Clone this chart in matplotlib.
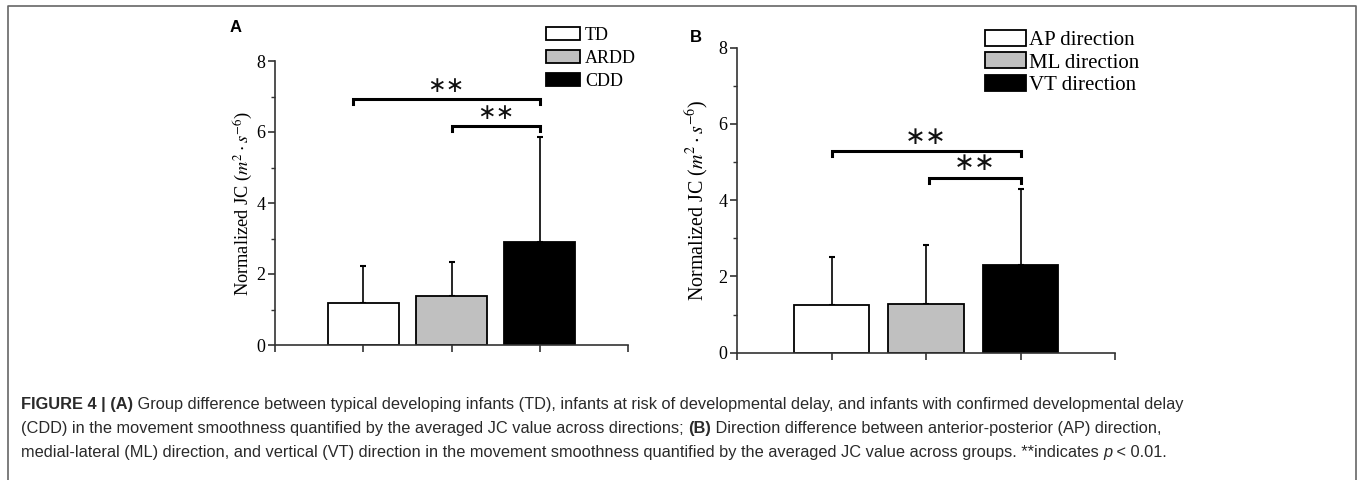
import numpy as np
import matplotlib
matplotlib.use("Agg")
import matplotlib.pyplot as plt
from matplotlib.patches import Patch
from matplotlib.lines import Line2D

plt.rcParams['font.family'] = ['Liberation Serif', 'DejaVu Serif']
plt.rcParams['mathtext.fontset'] = 'stix'

# panel A: groups
groups = ["TD", "ARDD", "CDD"]
group_mean = [1.18, 1.37, 2.91]
group_sd = [1.05, 0.98, 2.94]
group_sig = [(0.88, 3, 6.93), (2, 3, 6.17)]   # (from, to, height)

# panel B: directions
directions = ["AP direction", "ML direction", "VT direction"]
dir_mean = [1.25, 1.28, 2.30]
dir_sd = [1.27, 1.55, 1.99]
dir_sig = [(1, 3, 5.28), (2.03, 3, 4.59)]

colors = ["white", "#c0c0c0", "black"]

W, H = 1358, 480
fig = plt.figure(figsize=(W / 100, H / 100), dpi=100)


def px(x, y):
    return x / W, 1 - y / H


def draw_panel(rect, means, sds, sig, star_size, label_size, label_pad):
    ax = fig.add_axes(rect)
    x = np.arange(1, len(means) + 1)
    ax.bar(x, means, width=0.8, color=colors, edgecolor="black", linewidth=1.3, zorder=2)
    ax.errorbar(x, means, yerr=[np.zeros(len(sds)), sds], fmt="none", ecolor="black",
                elinewidth=1.2, capsize=2.5, capthick=1.5, zorder=1)
    for x0, x1, h in sig:
        ax.plot([x0, x0, x1, x1], [h - 0.13, h, h, h - 0.13], color="black", lw=2.2,
                solid_joinstyle="miter", clip_on=False)
        ax.text((x0 + x1) / 2, h + 0.07, "∗∗", ha="center", va="bottom",
                fontsize=star_size, family="DejaVu Sans", color="#111111")
    ax.set_xlim(0, 4)
    ax.set_ylim(0, 8)
    ax.set_xticks([0, 1, 2, 3, 4])
    ax.set_xticklabels([])
    ax.set_yticks([0, 2, 4, 6, 8])
    ax.set_yticks([1, 3, 5, 7], minor=True)
    for s in ["top", "right"]:
        ax.spines[s].set_visible(False)
    for s in ["left", "bottom"]:
        ax.spines[s].set_linewidth(1.2)
        ax.spines[s].set_color("#333333")
    ax.tick_params(which="major", direction="out", length=5, width=1.2, color="#333333",
                   labelsize=13, pad=2)
    ax.tick_params(which="minor", direction="out", length=3, width=1.0, color="#333333")
    ax.set_ylabel(r"Normalized JC ($m^2\cdot s^{-6}$)", fontsize=label_size, labelpad=label_pad)
    return ax


axA = draw_panel([275 / W, 1 - 345 / H, (628 - 275) / W, (345 - 61) / H],
                 group_mean, group_sd, group_sig, 16, 13.2, 1)
axB = draw_panel([737 / W, 1 - 352.7 / H, (1115 - 737) / W, (352.7 - 47.7) / H],
                 dir_mean, dir_sd, dir_sig, 18, 14.4, 5)

# legends
hA = [Patch(facecolor=c, edgecolor="black", linewidth=1.3) for c in colors]
fig.legend(hA, groups, loc="upper left", bbox_to_anchor=px(546, 27), frameon=False,
           fontsize=13, handlelength=1.9, handleheight=0.75, handletextpad=0.25,
           labelspacing=0.32, borderpad=0, borderaxespad=0)
fig.legend(hA, directions, loc="upper left", bbox_to_anchor=px(985, 30), frameon=False,
           fontsize=15, handlelength=1.95, handleheight=0.8, handletextpad=0.15,
           labelspacing=0.1, borderpad=0, borderaxespad=0)

# panel letters
fig.text(*px(230, 28), "A", family="Liberation Sans", fontweight="bold", fontsize=12, va="center")
fig.text(*px(690, 37), "B", family="Liberation Sans", fontweight="bold", fontsize=12, va="center")

# frame
fig.add_artist(Line2D([7.5 / W, 7.5 / W, 1355.5 / W, 1355.5 / W], [0, 1 - 6 / H, 1 - 6 / H, 0],
                      color="#666666", lw=1.2))

# caption
cap_lines = [
    [("FIGURE 4 | (A)", "bold", "normal"),
     (" Group difference between typical developing infants (TD), infants at risk of developmental delay, and infants with confirmed developmental delay", "normal", "normal")],
    [("(CDD) in the movement smoothness quantified by the averaged JC value across directions; ", "normal", "normal"),
     ("(B)", "bold", "normal"),
     (" Direction difference between anterior-posterior (AP) direction,", "normal", "normal")],
    [("medial-lateral (ML) direction, and vertical (VT) direction in the movement smoothness quantified by the averaged JC value across groups. **indicates ", "normal", "normal"),
     ("p", "normal", "italic"),
     (" < 0.01.", "normal", "normal")],
]
cap_y = [409, 433, 457]
renderer = fig.canvas.get_renderer()
for line, yy in zip(cap_lines, cap_y):
    xx = 21
    for s, w, st in line:
        t = fig.text(*px(xx, yy), s, family="Liberation Sans", fontsize=11.8, fontweight=w,
                     fontstyle=st, va="baseline", color="#2a2a2a")
        bb = t.get_window_extent(renderer)
        xx = bb.x1

fig.savefig("out.png", dpi=100)
